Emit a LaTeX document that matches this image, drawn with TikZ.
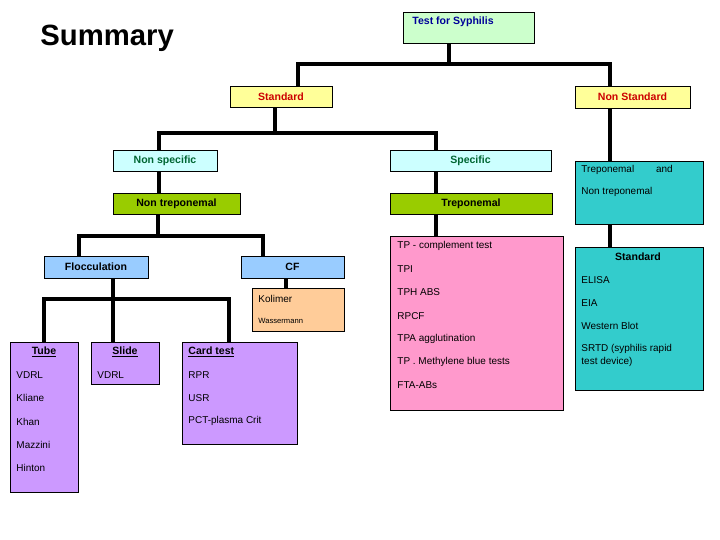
\documentclass[tikz,border=0pt]{standalone}
\usepackage{fontspec}
\setmainfont{Liberation Sans}
\usepackage{tikz}
\usetikzlibrary{calc}

\definecolor{ltgreen}{HTML}{CCFFCC}
\definecolor{ltyellow}{HTML}{FFFF99}
\definecolor{ltcyan}{HTML}{CCFFFF}
\definecolor{olive}{HTML}{99CC00}
\definecolor{teal}{HTML}{33CCCC}
\definecolor{pinkbox}{HTML}{FF99CC}
\definecolor{lilac}{HTML}{CC99FF}
\definecolor{peach}{HTML}{FFCC99}
\definecolor{skyblue}{HTML}{99CCFF}
\definecolor{navy}{HTML}{000099}
\definecolor{dkred}{HTML}{CC0000}
\definecolor{dkgreen}{HTML}{006633}

\begin{document}
\begin{tikzpicture}[x=0.03cm, y=-0.03cm, thick,
  box/.style = {rectangle, draw=black, inner sep=0pt},
  item/.style = {anchor=west, inner sep=0pt, font=\fontsize{8.5}{10}\selectfont},
  head/.style = {font=\fontsize{9}{11}\selectfont\bfseries},
  link/.style = {line width=3pt}]
  \useasboundingbox (0,0) rectangle (720,540);

  \node[anchor=west, font=\fontsize{25}{30}\selectfont\bfseries] (title) at (36,38) {Summary};

  % top levels
  \node[box, fill=ltgreen, minimum width=3.93cm, minimum height=0.93cm] (test) at (468.5,27.5) {};
  \node[head, text=navy, anchor=west] (testlbl) at (408,22) {Test for Syphilis};
  \node[box, fill=ltyellow, minimum width=3.06cm, minimum height=0.63cm, head, text=dkred] (std) at (281,96.5) {Standard};
  \node[box, fill=ltyellow, minimum width=3.45cm, minimum height=0.66cm, head, text=dkred] (nstd) at (632.5,97) {Non Standard};
  \node[box, fill=ltcyan, minimum width=3.12cm, minimum height=0.63cm, head, text=dkgreen] (nspec) at (165,160.5) {Non specific};
  \node[box, fill=ltcyan, minimum width=4.83cm, minimum height=0.63cm, head, text=dkgreen] (spec) at (470.5,160.5) {Specific};
  \node[box, fill=olive, minimum width=3.81cm, minimum height=0.63cm, head] (ntrep) at (176.5,203.5) {Non treponemal};
  \node[box, fill=olive, minimum width=4.86cm, minimum height=0.63cm, head] (trep) at (471,203.5) {Treponemal};

  % non standard column
  \node[box, fill=teal, minimum width=3.84cm, minimum height=1.89cm] (both) at (639,192.5) {};
  \node[item] (both1) at (581,170) {Treponemal\hspace{2.2em}and};
  \node[item] (both2) at (581,192) {Non treponemal};
  \node[box, fill=teal, minimum width=3.84cm, minimum height=4.29cm] (nsstd) at (639,318.5) {};
  \node[head] (nsstdlbl) at (638,257) {Standard};
  \foreach \t [count=\i] in {ELISA, EIA, Western Blot, SRTD (syphilis rapid}
    \node[item] (ns\i) at (581,257+23*\i) {\t};
  \node[item] (ns5) at (581,362) {test device)};

  % treponemal tests
  \node[box, fill=pinkbox, minimum width=5.19cm, minimum height=5.22cm] (tptests) at (476.5,323) {};
  \foreach \t [count=\i] in {TP - complement test, TPI, TPH ABS, RPCF, TPA agglutination,
      TP . Methylene blue tests, FTA-ABs}
    \node[item] (tp\i) at (397,246+23.2*\i-23.2) {\t};

  % non treponemal tests
  \node[box, fill=skyblue, minimum width=3.12cm, minimum height=0.66cm, head] (floc) at (96,267) {Flocculation};
  \node[box, fill=skyblue, minimum width=3.09cm, minimum height=0.66cm, head] (cf) at (292.5,267) {CF};
  \node[box, fill=peach, minimum width=2.76cm, minimum height=1.29cm] (kol) at (298,309.5) {};
  \node[item] (kol1) at (258,299) {Kolimer};
  \node[item, font=\fontsize{6.5}{8}\selectfont] (kol2) at (258,321) {Wassermann};

  \node[box, fill=lilac, minimum width=2.04cm, minimum height=4.5cm] (tube) at (44,417) {};
  \node[head] (tubelbl) at (44,352) {\underline{Tube}};
  \foreach \t [count=\i] in {VDRL, Kliane, Khan, Mazzini, Hinton}
    \node[item] (tube\i) at (16,352+23.2*\i) {\t};
  \node[box, fill=lilac, minimum width=2.04cm, minimum height=1.26cm] (slide) at (125,363) {};
  \node[head] (slidelbl) at (125,352) {\underline{Slide}};
  \node[item] (slide1) at (97,375) {VDRL};
  \node[box, fill=lilac, minimum width=3.45cm, minimum height=3.06cm] (card) at (239.5,393) {};
  \node[head, anchor=west, inner sep=0pt] (cardlbl) at (188,352) {\underline{Card test}};
  \foreach \t [count=\i] in {RPR, USR, PCT-plasma Crit}
    \node[item] (card\i) at (188,352+23*\i) {\t};

  % branch points
  \coordinate (jtop) at (449,64);
  \coordinate (jstd) at (298,64);
  \coordinate (jnstd) at (610,64);
  \coordinate (jmid) at (275,133);
  \coordinate (jnspec) at (159,133);
  \coordinate (jspec) at (436,133);
  \coordinate (jntrep) at (158,236);
  \coordinate (jfloc) at (79,236);
  \coordinate (jcf) at (263,236);
  \coordinate (jsub) at (113,299);
  \coordinate (jtube) at (44,299);
  \coordinate (jcard) at (229,299);
  \coordinate (jkol) at (286,0);

  \begin{scope}[link]
    \draw (jtop |- test.south) -- (jtop);
    \draw (jstd |- std.north) -- (jstd) -- (jnstd) -- (jnstd |- nstd.north);
    \draw (jmid |- std.south) -- (jmid);
    \draw (jnspec |- nspec.north) -- (jnspec) -- (jspec) -- (jspec |- spec.north);
    \draw (jnspec |- nspec.south) -- (jnspec |- ntrep.north);
    \draw (jspec |- spec.south) -- (jspec |- trep.north);
    \draw (jspec |- trep.south) -- (jspec |- tptests.north);
    \draw (jnstd |- nstd.south) -- (jnstd |- both.north);
    \draw (jnstd |- both.south) -- (jnstd |- nsstd.north);
    \draw (jntrep |- ntrep.south) -- (jntrep);
    \draw (jfloc |- floc.north) -- (jfloc) -- (jcf) -- (jcf |- cf.north);
    \draw (jkol |- cf.south) -- (jkol |- kol.north);
    \draw (jsub |- floc.south) -- (jsub |- slide.north);
    \draw (jtube |- tube.north) -- (jtube) -- (jcard) -- (jcard |- card.north);
  \end{scope}
\end{tikzpicture}
\end{document}
